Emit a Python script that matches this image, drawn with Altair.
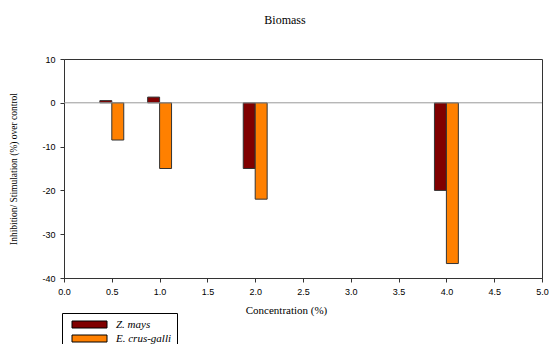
import altair as alt
import pandas as pd

conc = [0.5, 1.0, 2.0, 4.0]
zmays = [0.5, 1.3, -15, -20]
ecrus = [-8.5, -15, -22, -36.7]
series = ["Z. mays", "E. crus-galli"]
colors = ["#800000", "#FF8000"]

rows = []
for c, v in zip(conc, zmays):
    rows.append({"conc": c, "val": v, "series": series[0], "idx": 0})
for c, v in zip(conc, ecrus):
    rows.append({"conc": c, "val": v, "series": series[1], "idx": 1})
df = pd.DataFrame(rows)

bw = 0.125

xscale = alt.Scale(domain=[0, 5], nice=False, zero=False)
yscale = alt.Scale(domain=[-40, 10], nice=False)

bars = alt.Chart(df).transform_calculate(
    x0=f"datum.conc + (datum.idx - 1) * {bw}",
    x1=f"datum.conc + datum.idx * {bw}",
).mark_bar(stroke="#333333", strokeWidth=1).encode(
    x=alt.X("x0:Q", scale=xscale,
            axis=alt.Axis(values=[i * 0.5 for i in range(11)], format=".1f",
                          labelFlush=False,
                          title="Concentration (%)", titleX=222, titleY=26)),
    x2="x1:Q",
    y=alt.Y("val:Q", scale=yscale,
            axis=alt.Axis(values=[-40, -30, -20, -10, 0, 10],
                          labelExpr="'' + datum.value",
                          title="Inhibition/ Stimulation (%) over control",
                          titleFontSize=9.5, titleX=-46)),
    y2=alt.datum(0),
    color=alt.Color("series:N", scale=alt.Scale(domain=series, range=colors),
                    legend=alt.Legend(title=None, orient="none", legendX=-2, legendY=254,
                                      symbolType="M-5,-1H5V1H-5Z", symbolSize=49,
                                      symbolStrokeColor="#000000", symbolStrokeWidth=1,
                                      labelFont="Liberation Serif", labelFontStyle="italic",
                                      labelFontSize=11, labelColor="#000000",
                                      strokeColor="#000000", fillColor="#ffffff",
                                      padding=6, rowPadding=2, symbolOffset=16,
                                      labelOffset=21)),
)

zero = alt.Chart(pd.DataFrame({"z": [0]})).mark_rule(color="#999999", strokeWidth=1).encode(
    y=alt.Y("z:Q", scale=yscale)
)

chart = alt.layer(bars, zero).properties(
    width=478, height=219,
    autosize=alt.AutoSizeParams(type="none"),
    padding={"left": 56, "top": 51, "right": 8, "bottom": 66},
    title=alt.Title("Biomass", font="Liberation Serif", fontSize=12, fontWeight="normal",
                    color="#000000", offset=28, dx=-18),
).configure_view(
    stroke="#333333", strokeWidth=1
).configure_axis(
    grid=False,
    domainColor="#333333",
    tickColor="#333333",
    tickSize=4,
    labelFont="Liberation Sans",
    labelFontSize=9,
    labelColor="#000000",
    titleFont="Liberation Serif",
    titleFontSize=11,
    titleFontWeight="normal",
    titleColor="#000000",
    labelPadding=5,
)

chart.save("out.html", embed_options={"renderer": "svg", "actions": False})
